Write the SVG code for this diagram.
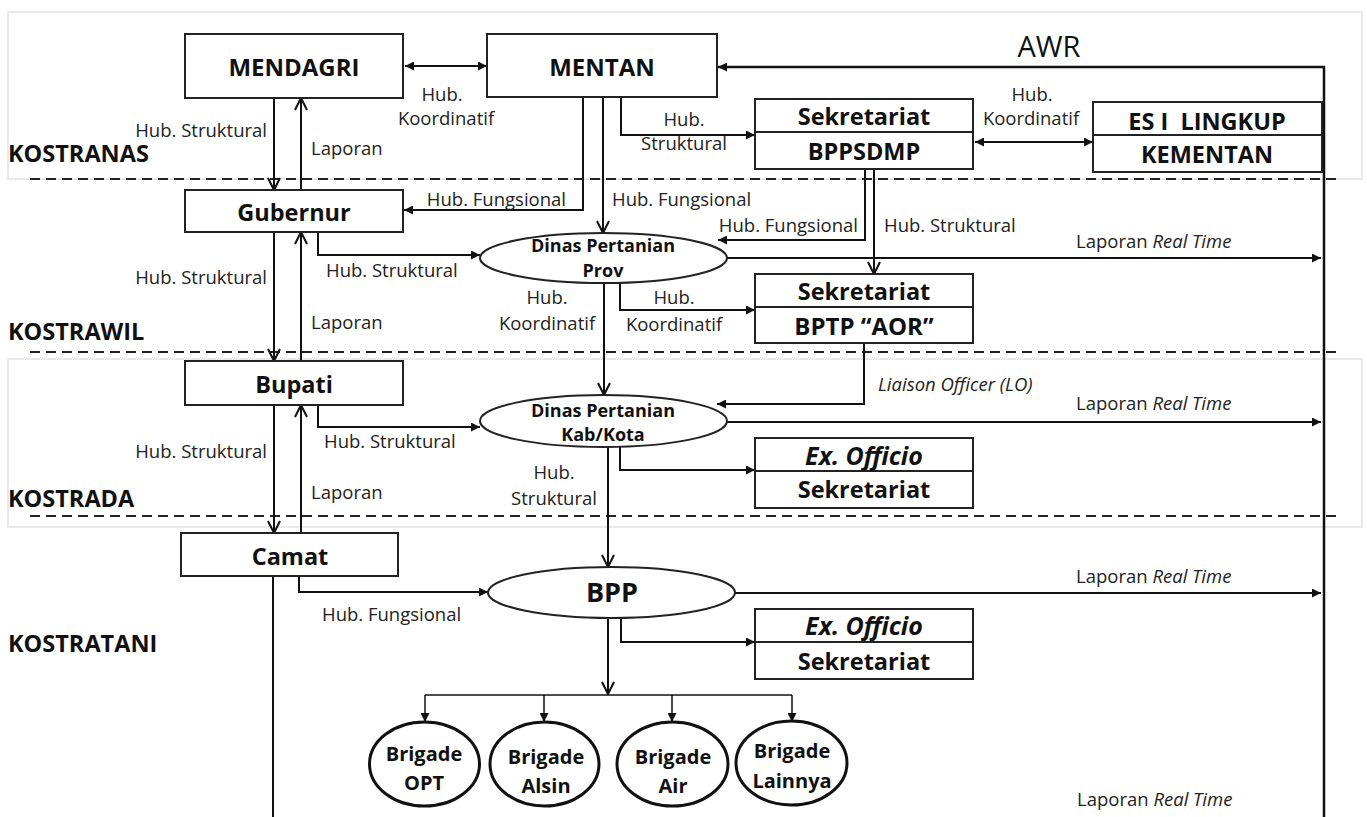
<svg xmlns="http://www.w3.org/2000/svg" width="1367" height="817" viewBox="0 0 1367 817">
<style>
.panel{fill:#fff;stroke:#e2e2e2;stroke-width:1.5}
.dash{stroke:#222;stroke-width:2;stroke-dasharray:10 6;fill:none}
.box{fill:#fff;stroke:#222;stroke-width:2}
.ell{fill:#fff;stroke:#222;stroke-width:2}
.brig{fill:#fff;stroke:#111;stroke-width:3}
.c{fill:none;stroke:#111;stroke-width:2}
.t{font-family:"Open Sans",sans-serif;fill:#111}
.lab{font-family:"Open Sans",sans-serif;font-size:18.5px;fill:#222}
.b{font-weight:bold}
.bx{font-size:23.5px}
.lvl{font-family:"Open Sans",sans-serif;font-weight:bold;font-size:23.5px;fill:#111}
</style>
<defs>
<marker id="tri" viewBox="0 0 10 10" refX="10" refY="5" markerWidth="11" markerHeight="9" markerUnits="userSpaceOnUse" orient="auto-start-reverse"><path d="M0,0 L10,5 L0,10 z" fill="#111"/></marker>
<marker id="vee" viewBox="0 0 14 14" refX="13" refY="7" markerWidth="14" markerHeight="14" markerUnits="userSpaceOnUse" orient="auto"><path d="M1,1 L13,7 L1,13" fill="none" stroke="#111" stroke-width="2"/></marker>
</defs>
<rect width="1367" height="817" fill="#fff"/>
<g id="panels">
<rect class="panel" x="8" y="12" width="1354" height="167"/>
<rect class="panel" x="8" y="359" width="1354" height="168"/>
<line x1="30" y1="179" x2="1340" y2="179" class="dash"/>
<line x1="30" y1="352" x2="1340" y2="352" class="dash"/>
<line x1="30" y1="516" x2="1340" y2="516" class="dash"/>
</g>
<g id="levels">
<text class="lvl" x="8" y="162">KOSTRANAS</text>
<text class="lvl" x="8" y="340">KOSTRAWIL</text>
<text class="lvl" x="8" y="507">KOSTRADA</text>
<text class="lvl" x="8" y="652">KOSTRATANI</text>
</g>
<g id="connectors">
<line class="c" x1="405" y1="66" x2="487" y2="66" marker-start="url(#tri)" marker-end="url(#tri)"/>
<path class="c" d="M1324,817 V67 H718" marker-end="url(#tri)" style="stroke-width:2.5"/>
<path class="c" d="M621,97 V135 H755" marker-end="url(#tri)"/>
<line class="c" x1="975" y1="142" x2="1093" y2="142" marker-start="url(#tri)" marker-end="url(#tri)"/>
<line class="c" x1="274" y1="98" x2="274" y2="190" marker-end="url(#vee)"/>
<line class="c" x1="301" y1="190" x2="301" y2="98" marker-end="url(#vee)"/>
<path class="c" d="M583,97 V210 H404" marker-end="url(#tri)"/>
<line class="c" x1="603" y1="97" x2="603" y2="233" marker-end="url(#vee)"/>
<path class="c" d="M865,169 V240 H718" marker-end="url(#tri)"/>
<line class="c" x1="874" y1="169" x2="874" y2="274" marker-end="url(#vee)"/>
<path class="c" d="M318,232 V255 H480" marker-end="url(#tri)"/>
<path class="c" d="M620,283 V310 H755" marker-end="url(#tri)"/>
<line class="c" x1="604" y1="283" x2="604" y2="395" marker-end="url(#vee)"/>
<line class="c" x1="727" y1="258" x2="1321" y2="258" marker-end="url(#tri)"/>
<line class="c" x1="274" y1="232" x2="274" y2="361" marker-end="url(#vee)"/>
<line class="c" x1="301" y1="361" x2="301" y2="232" marker-end="url(#vee)"/>
<path class="c" d="M318,405 V427 H480" marker-end="url(#tri)"/>
<path class="c" d="M864,343 V404 H717" marker-end="url(#tri)"/>
<line class="c" x1="727" y1="422" x2="1321" y2="422" marker-end="url(#tri)"/>
<path class="c" d="M620,447 V470 H755" marker-end="url(#tri)"/>
<line class="c" x1="608" y1="447" x2="608" y2="567" marker-end="url(#vee)"/>
<line class="c" x1="274" y1="405" x2="274" y2="533" marker-end="url(#vee)"/>
<line class="c" x1="301" y1="533" x2="301" y2="405" marker-end="url(#vee)"/>
<line class="c" x1="273" y1="576" x2="273" y2="817"/>
<path class="c" d="M299,576 V592 H488" marker-end="url(#tri)"/>
<line class="c" x1="735" y1="593" x2="1321" y2="593" marker-end="url(#tri)"/>
<path class="c" d="M621,618 V642 H755" marker-end="url(#tri)"/>
<line class="c" x1="608" y1="618" x2="608" y2="694" marker-end="url(#vee)"/>
<path class="c" d="M425,695 H792" style="stroke-width:1.5"/>
<line class="c" x1="425" y1="695" x2="425" y2="722" marker-end="url(#tri)" style="stroke-width:1.5"/>
<line class="c" x1="544" y1="695" x2="544" y2="722" marker-end="url(#tri)" style="stroke-width:1.5"/>
<line class="c" x1="672" y1="695" x2="672" y2="722" marker-end="url(#tri)" style="stroke-width:1.5"/>
<line class="c" x1="792" y1="695" x2="792" y2="722" marker-end="url(#tri)" style="stroke-width:1.5"/>
</g>
<g id="connector-labels">
<text class="lab" x="442" y="101" text-anchor="middle">Hub.</text>
<text class="lab" x="446" y="125" text-anchor="middle">Koordinatif</text>
<text class="t" x="1049" y="57" text-anchor="middle" font-size="29">AWR</text>
<text class="lab" x="684" y="126" text-anchor="middle">Hub.</text>
<text class="lab" x="684" y="150" text-anchor="middle">Struktural</text>
<text class="lab" x="1032" y="101" text-anchor="middle">Hub.</text>
<text class="lab" x="1031" y="125" text-anchor="middle">Koordinatif</text>
<text class="lab" x="267" y="137" text-anchor="end">Hub. Struktural</text>
<text class="lab" x="311" y="155">Laporan</text>
<text class="lab" x="566" y="206" text-anchor="end">Hub. Fungsional</text>
<text class="lab" x="612" y="206">Hub. Fungsional</text>
<text class="lab" x="858" y="232" text-anchor="end">Hub. Fungsional</text>
<text class="lab" x="884" y="232">Hub. Struktural</text>
<text class="lab" x="1076" y="248">Laporan <tspan font-style="italic">Real Time</tspan></text>
<text class="lab" x="326" y="277">Hub. Struktural</text>
<text class="lab" x="547" y="304" text-anchor="middle">Hub.</text>
<text class="lab" x="547" y="330" text-anchor="middle">Koordinatif</text>
<text class="lab" x="674" y="304" text-anchor="middle">Hub.</text>
<text class="lab" x="674" y="331" text-anchor="middle">Koordinatif</text>
<text class="lab" x="267" y="284" text-anchor="end">Hub. Struktural</text>
<text class="lab" x="311" y="329">Laporan</text>
<text class="lab" x="878" y="391" font-style="italic" font-size="19">Liaison Officer (LO)</text>
<text class="lab" x="1076" y="410">Laporan <tspan font-style="italic">Real Time</tspan></text>
<text class="lab" x="324" y="448">Hub. Struktural</text>
<text class="lab" x="554" y="479" text-anchor="middle">Hub.</text>
<text class="lab" x="554" y="505" text-anchor="middle">Struktural</text>
<text class="lab" x="267" y="458" text-anchor="end">Hub. Struktural</text>
<text class="lab" x="311" y="499">Laporan</text>
<text class="lab" x="322" y="621">Hub. Fungsional</text>
<text class="lab" x="1076" y="583">Laporan <tspan font-style="italic">Real Time</tspan></text>
<text class="lab" x="1077" y="806">Laporan <tspan font-style="italic">Real Time</tspan></text>
</g>
<g id="mendagri"><rect class="box" x="185" y="34" width="218" height="64"/><text class="t b" x="294" y="76" text-anchor="middle" font-size="24">MENDAGRI</text></g>
<g id="mentan"><rect class="box" x="487" y="34" width="230" height="63"/><text class="t b" x="602" y="76" text-anchor="middle" font-size="24">MENTAN</text></g>
<g id="bppsdmp"><rect class="box" x="755" y="99" width="218" height="70"/><line class="box" x1="755" y1="132" x2="973" y2="132"/><text class="t b bx" x="864" y="125" text-anchor="middle">Sekretariat</text><text class="t b bx" x="864" y="160" text-anchor="middle">BPPSDMP</text></g>
<g id="es1"><rect class="box" x="1093" y="102" width="229" height="70"/><line class="box" x1="1093" y1="135" x2="1322" y2="135"/><text class="t b bx" x="1207" y="130" text-anchor="middle" xml:space="preserve">ES I  LINGKUP</text><text class="t b bx" x="1207" y="163" text-anchor="middle">KEMENTAN</text></g>
<g id="gubernur"><rect class="box" x="185" y="190" width="218" height="42"/><text class="t b bx" x="294" y="221" text-anchor="middle">Gubernur</text></g>
<g id="dinas-prov"><ellipse class="ell" cx="603.5" cy="258" rx="123.5" ry="25"/><text class="t b" x="603" y="252" text-anchor="middle" font-size="18">Dinas Pertanian</text><text class="t b" x="603" y="277" text-anchor="middle" font-size="18">Prov</text></g>
<g id="bptp"><rect class="box" x="755" y="274" width="218" height="69"/><line class="box" x1="755" y1="307" x2="973" y2="307"/><text class="t b bx" x="864" y="300" text-anchor="middle">Sekretariat</text><text class="t b" x="864" y="335" text-anchor="middle" font-size="24">BPTP “AOR”</text></g>
<g id="bupati"><rect class="box" x="185" y="361" width="218" height="44"/><text class="t b bx" x="294" y="393" text-anchor="middle">Bupati</text></g>
<g id="dinas-kab"><ellipse class="ell" cx="603.5" cy="421" rx="123.5" ry="26"/><text class="t b" x="603" y="417" text-anchor="middle" font-size="18">Dinas Pertanian</text><text class="t b" x="603" y="441" text-anchor="middle" font-size="18">Kab/Kota</text></g>
<g id="exofficio-kab"><rect class="box" x="755" y="438" width="218" height="70"/><line class="box" x1="755" y1="471" x2="973" y2="471"/><text class="t b" x="864" y="465" text-anchor="middle" font-size="25" font-style="italic">Ex. Officio</text><text class="t b bx" x="864" y="498" text-anchor="middle">Sekretariat</text></g>
<g id="camat"><rect class="box" x="181" y="533" width="217" height="43"/><text class="t b bx" x="290" y="565" text-anchor="middle">Camat</text></g>
<g id="bpp"><ellipse class="ell" cx="611.5" cy="592.5" rx="123.5" ry="25.5"/><text class="t b" x="612" y="602" text-anchor="middle" font-size="27">BPP</text></g>
<g id="exofficio-bpp"><rect class="box" x="755" y="609" width="218" height="70"/><line class="box" x1="755" y1="642" x2="973" y2="642"/><text class="t b" x="864" y="635" text-anchor="middle" font-size="25" font-style="italic">Ex. Officio</text><text class="t b bx" x="864" y="670" text-anchor="middle">Sekretariat</text></g>
<g id="brigade-opt"><ellipse class="brig" cx="424.5" cy="764" rx="55" ry="42"/><text class="t b" x="424" y="761" text-anchor="middle" font-size="20">Brigade</text><text class="t b" x="424" y="790" text-anchor="middle" font-size="20">OPT</text></g>
<g id="brigade-alsin"><ellipse class="brig" cx="544.5" cy="764" rx="54.5" ry="42"/><text class="t b" x="546" y="764" text-anchor="middle" font-size="20">Brigade</text><text class="t b" x="546" y="793" text-anchor="middle" font-size="20">Alsin</text></g>
<g id="brigade-air"><ellipse class="brig" cx="672.5" cy="764" rx="55.5" ry="42"/><text class="t b" x="673" y="764" text-anchor="middle" font-size="20">Brigade</text><text class="t b" x="673" y="793" text-anchor="middle" font-size="20">Air</text></g>
<g id="brigade-lainnya"><ellipse class="brig" cx="791.5" cy="763" rx="55.5" ry="42"/><text class="t b" x="792" y="758" text-anchor="middle" font-size="20">Brigade</text><text class="t b" x="792" y="788" text-anchor="middle" font-size="20">Lainnya</text></g>
</svg>
